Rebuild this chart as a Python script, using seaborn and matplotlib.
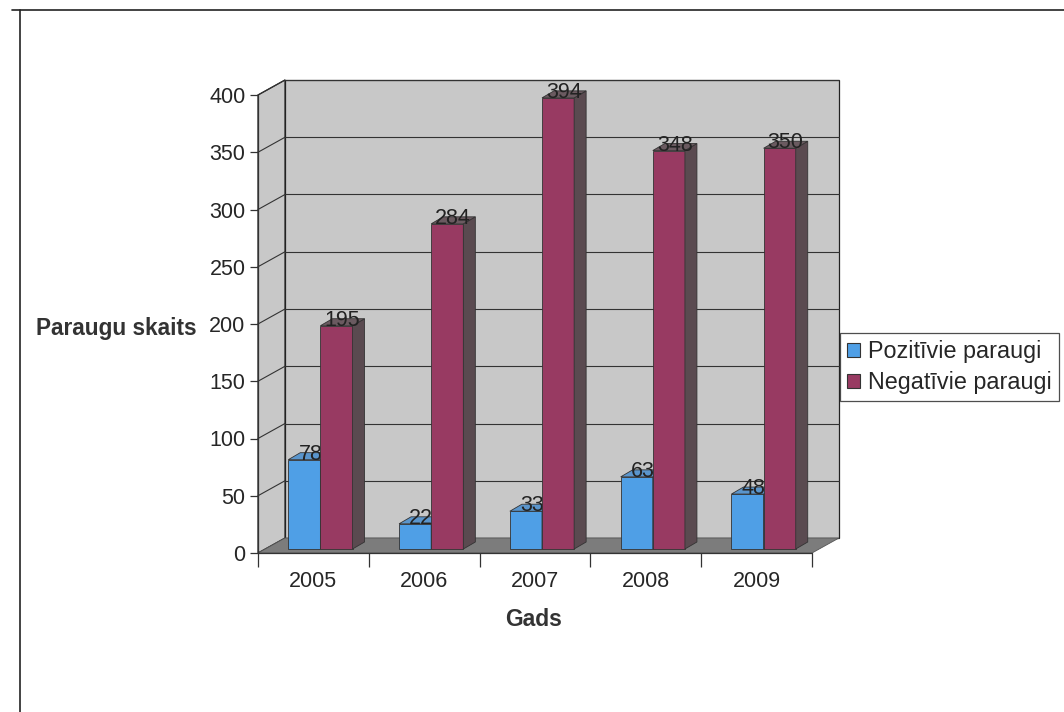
import matplotlib
matplotlib.use("Agg")
import matplotlib.pyplot as plt
import numpy as np
import pandas as pd
import seaborn as sns
from matplotlib.patches import Polygon, Patch
from matplotlib.lines import Line2D

# Data
years = ["2005", "2006", "2007", "2008", "2009"]
positive = [78, 22, 33, 63, 48]
negative = [195, 284, 394, 348, 350]
series = ["Pozitīvie paraugi", "Negatīvie paraugi"]
yticks = [0, 50, 100, 150, 200, 250, 300, 350, 400]

# Colours: front face, side face, top face
blue = ("#4f9fe6", "#3a6f9e", "#5a95cc")
red = ("#983a62", "#5a4a50", "#6a5a60")
wall = "#c8c8c8"
floor = "#7c7c7c"

sns.set_theme(style="white")
plt.rcParams["font.family"] = ["Liberation Sans", "DejaVu Sans"]

W, H = 1064, 712
fig = plt.figure(figsize=(W / 100, H / 100), dpi=100)
fig.patch.set_facecolor("white")

# front plane of the 3-D box
left_px, right_px, base_px, top_px = 258, 812, 553, 95
ax = fig.add_axes([left_px / W, 1 - base_px / H,
                   (right_px - left_px) / W, (base_px - top_px) / H])
ax.set_xlim(-0.5, 4.5)
ax.set_ylim(0, 400)
ax.set_facecolor("none")

# pixel -> data units
ux = 5 / (right_px - left_px)
uy = 400 / (base_px - top_px)
wdx, wdy = 27 * ux, 15 * uy      # depth of the walls
bdx, bdy = 7 * ux, 4 * uy        # bar front offset from front plane
ddx, ddy = 12 * ux, 7 * uy       # bar depth

# walls and floor
x0, x1 = -0.5, 4.5
ax.add_patch(Polygon([(x0 + wdx, wdy), (x1 + wdx, wdy), (x1 + wdx, 400 + wdy), (x0 + wdx, 400 + wdy)],
                     closed=True, facecolor=wall, edgecolor="#222222", lw=0.9, zorder=0, clip_on=False))
ax.add_patch(Polygon([(x0, 0), (x0 + wdx, wdy), (x0 + wdx, 400 + wdy), (x0, 400)],
                     closed=True, facecolor=wall, edgecolor="#222222", lw=0.9, zorder=0, clip_on=False))
ax.add_patch(Polygon([(x0, 0), (x1, 0), (x1 + wdx, wdy), (x0 + wdx, wdy)],
                     closed=True, facecolor=floor, edgecolor="#555555", lw=0.6, zorder=0.2, clip_on=False))

# gridlines on back and side walls
for v in yticks[1:]:
    ax.plot([x0 + wdx, x1 + wdx], [v + wdy, v + wdy], color="#333333", lw=0.8, zorder=0.5, clip_on=False)
    ax.plot([x0, x0 + wdx], [v, v + wdy], color="#333333", lw=0.8, zorder=0.5, clip_on=False)

df = pd.DataFrame({
    "Gads": years * 2,
    "skaits": positive + negative,
    "series": [series[0]] * len(years) + [series[1]] * len(years),
})
sns.barplot(data=df, x="Gads", y="skaits", hue="series", order=years, hue_order=series,
            palette=[blue[0], red[0]], width=0.58, saturation=1, legend=False,
            edgecolor="#333333", linewidth=0.6, ax=ax)

for k, (container, cols, vals) in enumerate(zip(ax.containers, (blue, red), (positive, negative))):
    z = 2 + k
    for bar, val in zip(container, vals):
        bar.set_x(bar.get_x() + bdx)
        bar.set_y(bdy)
        bar.set_height(val)
        bar.set_zorder(z)
        bar.set_clip_on(False)
        bx0 = bar.get_x()
        bx1 = bx0 + bar.get_width()
        ytop = bdy + val
        ax.add_patch(Polygon([(bx1, bdy), (bx1 + ddx, bdy + ddy), (bx1 + ddx, ytop + ddy), (bx1, ytop)],
                             closed=True, facecolor=cols[1], edgecolor="#333333", lw=0.6,
                             zorder=z, clip_on=False))
        ax.add_patch(Polygon([(bx0, ytop), (bx1, ytop), (bx1 + ddx, ytop + ddy), (bx0 + ddx, ytop + ddy)],
                             closed=True, facecolor=cols[2], edgecolor="#333333", lw=0.6,
                             zorder=z, clip_on=False))
        ax.text((bx0 + bx1) / 2 + ddx / 2, ytop, str(val), ha="center", va="baseline",
                fontsize=15.5, color="#222222", zorder=z + 0.5, clip_on=False)

# axes
for s in ("top", "right", "bottom"):
    ax.spines[s].set_visible(False)
ax.spines["left"].set_color("#333333")
ax.spines["left"].set_linewidth(0.9)
ax.set_yticks(yticks)
ax.tick_params(axis="y", which="major", direction="out", length=6, width=0.9,
               color="#333333", labelsize=15.5, pad=3, left=True)
ax.set_xticks(range(len(years)))
ax.set_xticklabels(years)
ax.set_xticks(np.arange(-0.5, 5, 1.0), minor=True)
ax.tick_params(axis="x", which="major", length=0, labelsize=15.5, pad=13, bottom=True)
ax.tick_params(axis="x", which="minor", direction="out", length=10, width=0.9,
               color="#333333", bottom=True)
ax.set_xlabel("")
ax.set_ylabel("")
ax.plot([x0, x1], [0, 0], color="#333333", lw=0.9, zorder=0.3, clip_on=False)

fig.text(197 / W, 1 - 328 / H, "Paraugu skaits", ha="right", va="center",
         fontsize=16.3, fontweight="bold", color="#333333")
fig.text(534 / W, 1 - 619 / H, "Gads", ha="center", va="center",
         fontsize=16.5, fontweight="bold", color="#333333")

handles = [Patch(facecolor=blue[0], edgecolor="#333333", lw=0.8),
           Patch(facecolor=red[0], edgecolor="#333333", lw=0.8)]
leg = fig.legend(handles, series, loc="upper left", bbox_to_anchor=(840 / W, 1 - 333 / H),
                 fontsize=16.8, frameon=True, fancybox=False, handlelength=0.55, handleheight=0.55,
                 handletextpad=0.35, labelspacing=0.35, borderpad=0.3, borderaxespad=0)
leg.get_frame().set_edgecolor("#222222")
leg.get_frame().set_linewidth(0.9)

# outer border
fig.add_artist(Line2D([12 / W, 1], [1 - 10 / H, 1 - 10 / H], transform=fig.transFigure, color="#222222", lw=1.2))
fig.add_artist(Line2D([20 / W, 20 / W], [0, 1 - 10 / H], transform=fig.transFigure, color="#222222", lw=1.2))

fig.savefig("out.png", dpi=100)
